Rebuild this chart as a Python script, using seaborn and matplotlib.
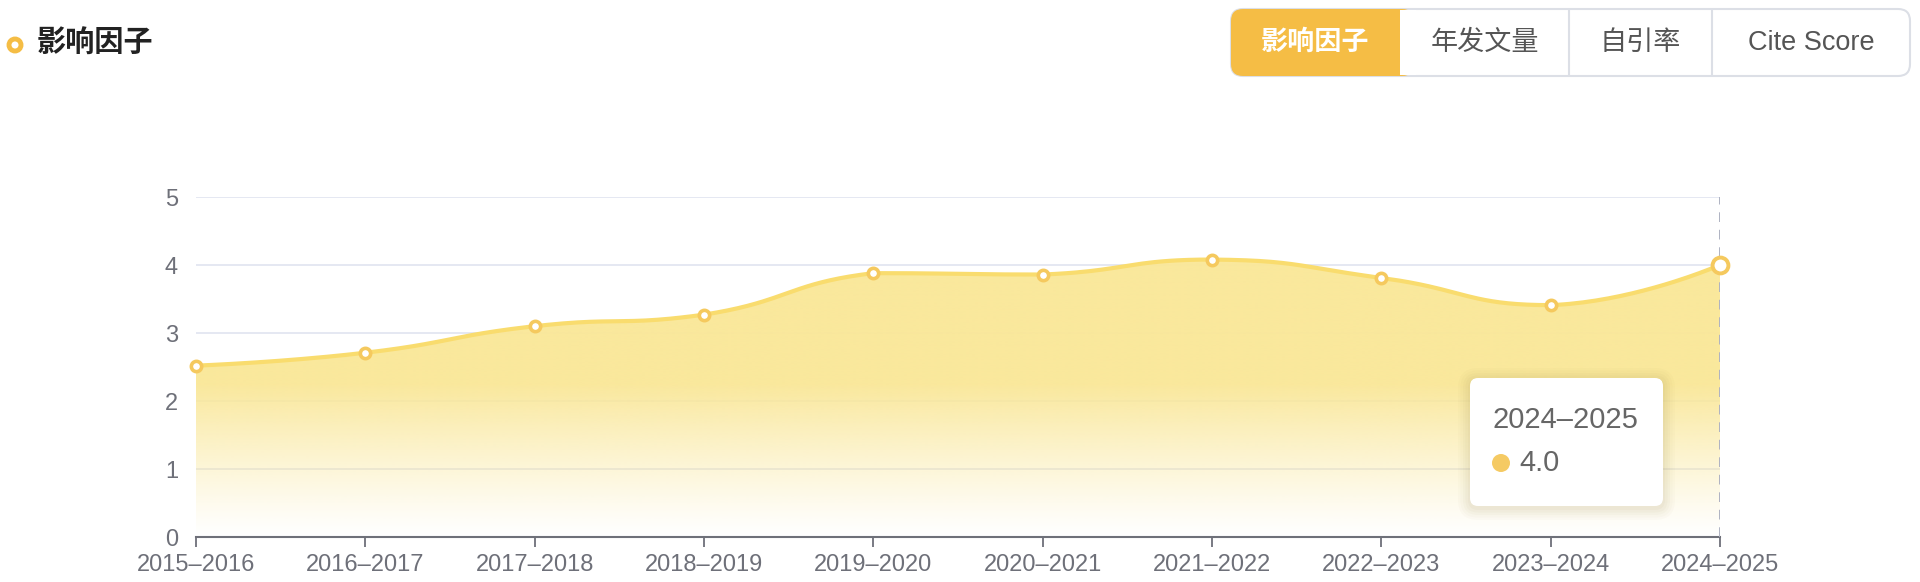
import numpy as np
import pandas as pd
import matplotlib.pyplot as plt
import seaborn as sns
from matplotlib.patches import FancyBboxPatch, Rectangle, Circle
from matplotlib.transforms import IdentityTransform
from matplotlib.lines import Line2D

# data
years = ['2015–2016', '2016–2017', '2017–2018', '2018–2019', '2019–2020',
         '2020–2021', '2021–2022', '2022–2023', '2023–2024', '2024–2025']
impact = [2.52, 2.71, 3.10, 3.27, 3.88, 3.86, 4.08, 3.81, 3.41, 4.0]
y_ticks = [0, 1, 2, 3, 4, 5]
tabs = ['影响因子', '年发文量', '自引率', 'Cite Score']
title = '影响因子'

sns.set_theme(style='white')
plt.rcParams['font.family'] = ['Liberation Sans', 'Noto Sans CJK SC', 'DejaVu Sans']

W, H = 1920, 582
AX_L, AX_R, AX_T, AX_B = 196, 1720, 197, 537
fig = plt.figure(figsize=(W / 100, H / 100), dpi=100)
ax = fig.add_axes([AX_L / W, 1 - AX_B / H, (AX_R - AX_L) / W, (AX_B - AX_T) / H])

line_col = '#F9DC6E'
mark_col = '#F5C95E'
fill_col = np.array([250, 231, 152]) / 255
grey = '#6E7079'
px = IdentityTransform()


def smooth_curve(xv, yv, smooth=0.5, ys=1.0, n=40):
    # echarts style bezier smoothing with clamped control points
    xv = np.asarray(xv, float)
    yv = np.asarray(yv, float) * ys
    cps = []
    for i in range(len(xv)):
        if i == 0 or i == len(xv) - 1:
            cps.append(((xv[i], yv[i]), (xv[i], yv[i])))
            continue
        vx, vy = xv[i + 1] - xv[i - 1], yv[i + 1] - yv[i - 1]
        lp = np.hypot(xv[i] - xv[i - 1], yv[i] - yv[i - 1])
        ln = np.hypot(xv[i + 1] - xv[i], yv[i + 1] - yv[i])
        r = ln / (ln + lp)
        cin = [xv[i] - vx * smooth * (1 - r), yv[i] - vy * smooth * (1 - r)]
        cout = [xv[i] + vx * smooth * r, yv[i] + vy * smooth * r]
        lo, hi = sorted([yv[i - 1], yv[i]])
        cin[1] = min(max(cin[1], lo), hi)
        lo, hi = sorted([yv[i + 1], yv[i]])
        cout[1] = min(max(cout[1], lo), hi)
        cps.append((tuple(cin), tuple(cout)))
    out_x, out_y = [], []
    t = np.linspace(0, 1, n)[:, None]
    for i in range(len(xv) - 1):
        p0 = np.array([xv[i], yv[i]])
        p1 = np.array(cps[i][1])
        p2 = np.array(cps[i + 1][0])
        p3 = np.array([xv[i + 1], yv[i + 1]])
        b = ((1 - t) ** 3) * p0 + 3 * ((1 - t) ** 2) * t * p1 + 3 * (1 - t) * t ** 2 * p2 + t ** 3 * p3
        out_x.extend(b[:, 0])
        out_y.extend(b[:, 1] / ys)
    return np.array(out_x), np.array(out_y)


xi = np.arange(len(years))
step_px = (AX_R - AX_L) / (len(years) - 1)
unit_px = (AX_B - AX_T) / 5
cx, cy = smooth_curve(xi, impact, ys=unit_px / step_px)
curve = pd.DataFrame({'x': cx, 'y': cy})

# gradient area
ymax = max(impact)
poly = ax.fill_between(cx, cy, 0, color='none', lw=0)
gy = np.linspace(0, ymax, 300)
alpha = np.clip(gy / ymax / 0.55, 0, 1) ** 1.15 * 0.96
grad = np.zeros((300, 2, 4))
grad[:, :, :3] = fill_col
grad[:, :, 3] = alpha[:, None]
img = ax.imshow(grad, extent=[0, len(years) - 1, 0, ymax], origin='lower',
                aspect='auto', zorder=2, interpolation='bilinear')
img.set_clip_path(poly.get_paths()[0], ax.transData)

sns.lineplot(data=curve, x='x', y='y', sort=False, estimator=None,
             color=line_col, lw=3, ax=ax, zorder=3)
sns.scatterplot(x=xi[:-1], y=impact[:-1], s=55, color='white', edgecolor=mark_col,
                linewidth=2.6, ax=ax, zorder=4, clip_on=False)
sns.scatterplot(x=xi[-1:], y=impact[-1:], s=130, color='white', edgecolor=mark_col,
                linewidth=2.8, ax=ax, zorder=5, clip_on=False)

ax.axvline(len(years) - 1, ymin=0, ymax=1, color='#AEB2C2', lw=1.4,
           dashes=(5, 4), zorder=3)

ax.set_xlim(0, len(years) - 1)
ax.set_ylim(0, 5)
ax.set_xticks(xi)
ax.set_xticklabels(years)
ax.set_yticks(y_ticks)
ax.set_xlabel('')
ax.set_ylabel('')
ax.yaxis.grid(True, color='#E0E4F0', lw=1.2)
ax.set_axisbelow(True)
for s in ['left', 'right', 'top']:
    ax.spines[s].set_visible(False)
ax.spines['bottom'].set_color(grey)
ax.spines['bottom'].set_linewidth(1.5)
ax.tick_params(axis='x', bottom=True, length=7, width=1.3, color=grey,
               labelsize=17, labelcolor=grey, pad=5)
ax.tick_params(axis='y', left=False, labelsize=17, labelcolor=grey, pad=7)

# tooltip box with soft shadow
tx0, ty0, tx1, ty1 = 1470, 378, 1663, 506
for k, a in enumerate([0.025, 0.025, 0.03, 0.035, 0.04]):
    g = 12 - k * 2.5
    fig.patches.append(FancyBboxPatch((tx0 - g, H - ty1 - g - 2), tx1 - tx0 + 2 * g, ty1 - ty0 + 2 * g,
                                      boxstyle='round,pad=0,rounding_size=%d' % (8 + g),
                                      fc='#8a7a40', ec='none', alpha=a, transform=px, zorder=5))
fig.patches.append(FancyBboxPatch((tx0, H - ty1), tx1 - tx0, ty1 - ty0,
                                  boxstyle='round,pad=0,rounding_size=8',
                                  fc='white', ec='none', transform=px, zorder=6))
fig.text(1493, H - 420, years[-1], transform=px, fontsize=21, color='#666666',
         va='center', ha='left', zorder=7)
fig.patches.append(Circle((1501, H - 463), 9, fc='#F5CA63', ec='none', transform=px, zorder=7))
fig.text(1519, H - 463, '%.1f' % impact[-1], transform=px, fontsize=21, color='#666666',
         va='center', ha='left', zorder=7)

# title
fig.patches.append(Circle((15, H - 45), 6, fc='white', ec='#F5BD45', lw=3.5, transform=px))
fig.text(37, H - 43, title, transform=px, fontsize=21, fontweight='bold', color='#222222',
         va='center', ha='left', family=['Noto Sans CJK SC', 'DejaVu Sans'])

# tab buttons
bx0, by0, bx1, by1 = 1231, 9, 1910, 76
edges = [1231, 1400, 1569, 1712, 1910]
fig.patches.append(FancyBboxPatch((bx0, H - by1), bx1 - bx0, by1 - by0,
                                  boxstyle='round,pad=0,rounding_size=12',
                                  fc='white', ec='#DCDFE6', lw=1.5, transform=px))
fig.patches.append(FancyBboxPatch((bx0, H - by1), edges[1] - bx0 + 14, by1 - by0,
                                  boxstyle='round,pad=0,rounding_size=12',
                                  fc='#F5BD45', ec='none', transform=px))
fig.patches.append(Rectangle((edges[1], H - by1 + 1), 16, by1 - by0 - 2,
                             fc='white', ec='none', transform=px))
for e in edges[2:4]:
    fig.lines.append(Line2D([e, e], [H - by1 + 1, H - by0 - 1], color='#DCDFE6', lw=1.5,
                            transform=px))
for i, lab in enumerate(tabs):
    cxp = (edges[i] + edges[i + 1]) / 2
    fig.text(cxp, H - 43, lab, transform=px, fontsize=19.5,
             color='white' if i == 0 else '#555555',
             fontweight='bold' if i == 0 else 'medium',
             ha='center', va='center', family=['Liberation Sans', 'Noto Sans CJK SC', 'DejaVu Sans'])

fig.savefig('out.png', dpi=100)
